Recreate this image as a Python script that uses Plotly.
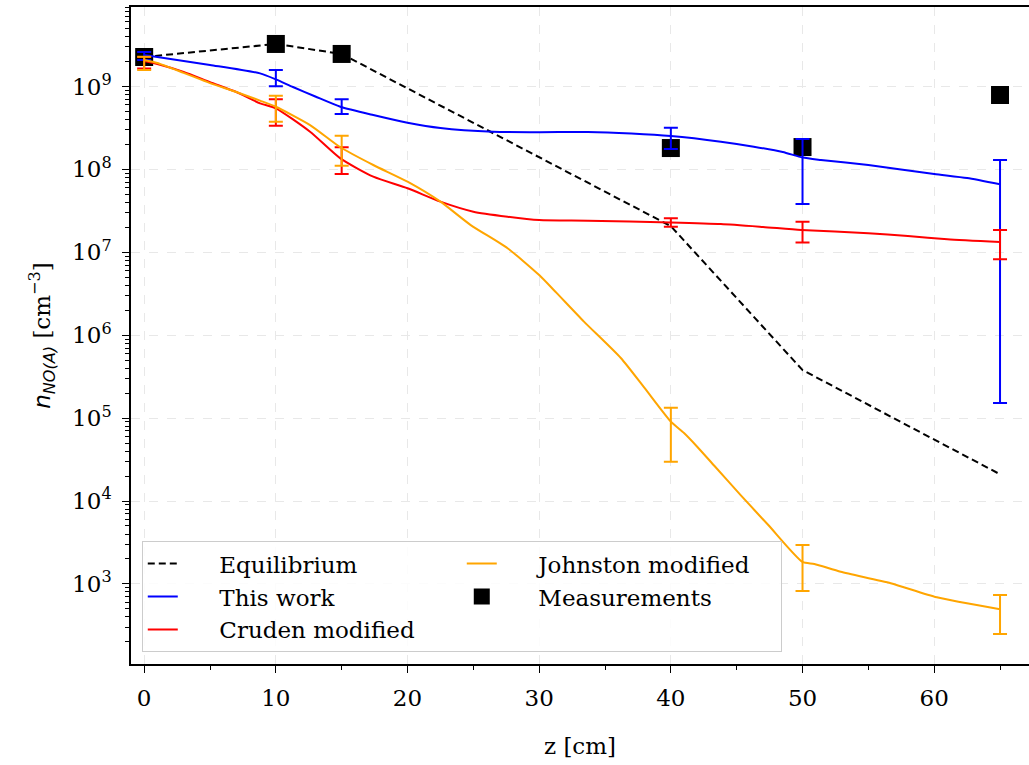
import plotly.graph_objects as go

# ---------------- data ----------------
meas_z = [0, 10, 15, 40, 50, 65]
meas_n = [2.27e9, 3.26e9, 2.47e9, 1.81e8, 1.86e8, 7.9e8]

eq_z = [0, 10, 15, 40, 50, 65]
eq_n = [2.27e9, 3.26e9, 2.47e9, 2.07e7, 3.8e5, 2.1e4]

blue_z = [0, 5, 8.8, 10, 11.3, 13, 14.9, 17.4, 20, 22.5, 26.5, 30, 33.7, 37, 40,
          43.8, 46.3, 48.5, 50, 51.4, 55, 60, 62.5, 65]
blue_n = [2.40e9, 1.82e9, 1.44e9, 1.22e9, 9.86e8, 7.57e8, 5.70e8, 4.53e8, 3.66e8,
          3.16e8, 2.85e8, 2.81e8, 2.83e8, 2.71e8, 2.53e8, 2.16e8, 1.88e8, 1.62e8,
          1.39e8, 1.30e8, 1.13e8, 8.81e7, 7.87e7, 6.61e7]

red_z = [0, 1, 3, 5, 7, 8.8, 10, 12.6, 14.9, 17.4, 20, 22.5, 25, 27.6, 30, 33.7,
         40, 43.8, 47, 49.9, 55, 58, 61, 65]
red_n = [2.03e9, 1.87e9, 1.50e9, 1.13e9, 8.59e8, 6.27e8, 5.46e8, 2.85e8, 1.36e8,
         8.17e7, 5.92e7, 4.08e7, 3.09e7, 2.69e7, 2.45e7, 2.41e7, 2.29e7, 2.19e7,
         2.02e7, 1.86e7, 1.70e7, 1.57e7, 1.44e7, 1.33e7]

orange_z = [0, 1, 3, 5, 7, 8.8, 10, 12.6, 14.9, 17.4, 20, 22.5, 24.8, 27.6, 30,
            31.3, 33.4, 36.2, 38, 40, 41, 42, 43.3, 45.3, 47.4, 50, 50.9, 52.9,
            56.7, 60.2, 65]
orange_n = [2.09e9, 1.92e9, 1.46e9, 1.10e9, 8.59e8, 6.75e8, 5.70e8, 3.43e8, 1.85e8,
            1.13e8, 7.11e7, 4.08e7, 2.13e7, 1.12e7, 5.32e6, 3.26e6, 1.46e6, 5.31e5,
            2.31e5, 9.06e4, 6.61e4, 4.52e4, 2.66e4, 1.18e4, 5.13e3, 1.84e3, 1.74e3,
            1.40e3, 1.02e3, 6.89e2, 4.94e2]

err_z = [0, 10, 15, 40, 50, 65]
blue_err_c = [2.40e9, 1.22e9, 5.70e8, 2.53e8, 1.39e8, 6.61e7]
blue_err_hi = [2.61e9, 1.58e9, 7.01e8, 3.18e8, 2.33e8, 1.30e8]
blue_err_lo = [2.09e9, 1.01e9, 4.66e8, 1.76e8, 3.83e7, 1.52e5]

red_err_c = [2.03e9, 5.46e8, 1.36e8, 2.29e7, 1.86e7, 1.33e7]
red_err_hi = [2.27e9, 7.01e8, 1.85e8, 2.57e7, 2.34e7, 1.86e7]
red_err_lo = [1.65e9, 3.37e8, 8.81e7, 2.04e7, 1.31e7, 8.24e6]

orange_err_c = [2.09e9, 5.70e8, 1.85e8, 9.06e4, 1.84e3, 4.94e2]
orange_err_hi = [2.29e9, 7.74e8, 2.55e8, 1.33e5, 2.95e3, 7.35e2]
orange_err_lo = [1.58e9, 3.76e8, 1.11e8, 2.98e4, 8.20e2, 2.49e2]

x_ticks = [0, 10, 20, 30, 40, 50, 60]
y_tick_exps = [3, 4, 5, 6, 7, 8, 9]

BLUE = "#0000ff"
RED = "#ff0000"
ORANGE = "#ffa500"
SERIF = "DejaVu Serif"
PAD = "\u00a0" * 5

fig = go.Figure()

fig.add_trace(go.Scatter(x=meas_z, y=meas_n, mode="markers", name=PAD + "Measurements",
                         marker=dict(symbol="square", size=18, color="black"),
                         legendrank=4))

fig.add_trace(go.Scatter(x=eq_z, y=eq_n, mode="lines", name=PAD + "Equilibrium",
                         line=dict(color="black", width=2, dash="7px,4px"),
                         legendrank=1))


def add_series(z, n, c, hi, lo, color, name, rank):
    fig.add_trace(go.Scatter(x=z, y=n, mode="lines", name=PAD + name,
                             line=dict(color=color, width=2, shape="spline", smoothing=0.6),
                             legendrank=rank))
    fig.add_trace(go.Scatter(
        x=err_z, y=c, mode="markers", showlegend=False, hoverinfo="skip",
        marker=dict(size=1, color="rgba(0,0,0,0)"),
        error_y=dict(type="data", symmetric=False,
                     array=[h - v for h, v in zip(hi, c)],
                     arrayminus=[v - l for v, l in zip(c, lo)],
                     color=color, thickness=2, width=7)))


add_series(blue_z, blue_n, blue_err_c, blue_err_hi, blue_err_lo, BLUE, "This work", 3)
add_series(red_z, red_n, red_err_c, red_err_hi, red_err_lo, RED, "Cruden modified", 5)
add_series(orange_z, orange_n, orange_err_c, orange_err_hi, orange_err_lo, ORANGE,
           "Johnston modified", 2)

minor_vals = [k * 10 ** e for e in range(2, 10) for k in range(2, 10)]

fig.update_layout(
    width=1029, height=765,
    margin=dict(l=131, r=0, t=7, b=101),
    paper_bgcolor="white", plot_bgcolor="white",
    font=dict(family=SERIF, size=23, color="black"),
    xaxis=dict(
        range=[-1, 67.2], tickvals=x_ticks, ticktext=[str(v) for v in x_ticks],
        ticks="outside", ticklen=7, tickwidth=1.3, tickcolor="black",
        showline=True, linecolor="black", linewidth=1.5, mirror=True,
        showgrid=True, gridcolor="#e8e8e8", griddash="dash", gridwidth=1,
        zeroline=False, automargin=False, ticklabelstandoff=6,
        minor=dict(tickvals=[5, 15, 25, 35, 45, 55, 65], ticks="outside",
                   ticklen=4, tickwidth=1, tickcolor="black", showgrid=False),
        title=dict(text="z [cm]", font=dict(size=23, family=SERIF), standoff=28),
        tickfont=dict(size=23, family=SERIF),
    ),
    yaxis=dict(
        type="log", range=[2.034, 9.959],
        tickvals=[10 ** e for e in y_tick_exps],
        ticktext=["10<sup>%d</sup>" % e for e in y_tick_exps],
        ticks="outside", ticklen=7, tickwidth=1.3, tickcolor="black",
        showline=True, linecolor="black", linewidth=1.5,
        showgrid=True, gridcolor="#e8e8e8", griddash="dash", gridwidth=1,
        zeroline=False, automargin=False, ticklabelstandoff=6,
        minor=dict(tickvals=minor_vals, ticks="outside", ticklen=4, tickwidth=1,
                   tickcolor="black", showgrid=False),
        title=dict(text="<span style='font-family:DejaVu Sans'><i>n</i><sub><i>NO(A)</i></sub></span> [cm<sup>−3</sup>]",
                   font=dict(size=23, family=SERIF), standoff=15),
        tickfont=dict(size=23, family=SERIF),
    ),
    legend=dict(
        orientation="h", x=0.012, y=0.018, xanchor="left", yanchor="bottom",
        entrywidth=274, entrywidthmode="pixels",
        bgcolor="rgba(255,255,255,0.85)", bordercolor="#cccccc", borderwidth=1,
        font=dict(family=SERIF, size=23), tracegroupgap=0,
    ),
    showlegend=True,
)

fig.write_html("out.html", config={"displayModeBar": False},
               post_script="document.body.style.margin='0';")
